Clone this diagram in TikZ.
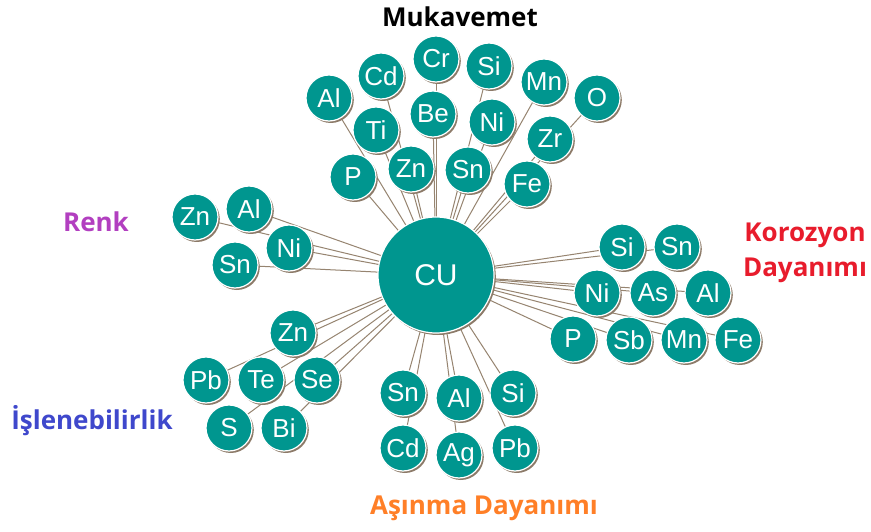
\documentclass[tikz,border=0pt]{standalone}
\usepackage{fontspec}
\setmainfont{Liberation Sans}
\newfontfamily\headfont{Open Sans}
\usepackage{tikz}
\usetikzlibrary{shadows}
\pgfdeclarelayer{bg}
\pgfsetlayers{bg,main}
\definecolor{elemteal}{RGB}{0,150,143}
\definecolor{shadebrown}{RGB}{140,122,104}
\definecolor{linkbrown}{RGB}{150,132,112}
\definecolor{renkcol}{RGB}{178,63,192}
\definecolor{islecol}{RGB}{63,72,204}
\definecolor{korcol}{RGB}{232,28,44}
\definecolor{asincol}{RGB}{255,127,39}

\begin{document}
\begin{tikzpicture}[x=1pt,y=-1pt,
  elem/.style={circle,fill=elemteal,draw=white,line width=1.2pt,minimum size=46pt,
    inner sep=0pt,text=white,font=\fontsize{26}{26}\selectfont,
    drop shadow={shadow xshift=1.8pt,shadow yshift=-2pt,fill=shadebrown,opacity=1}},
  hub/.style={elem,minimum size=116pt,font=\fontsize{30}{30}\selectfont},
  link/.style={linkbrown,line width=1pt},
  group/.style={font=\headfont\bfseries\fontsize{26}{35}\selectfont,align=center}]
\useasboundingbox (0,0) rectangle (871,532);
\node[hub] (cu) at (436,275) {CU};
% Mukavemet
\foreach \n/\t/\x/\y in {m1/Al/329/98, m2/Cd/381/76, m3/Cr/436/59, m4/Si/489/66,
  m5/Mn/544/82, m6/O/597/98, m7/Ti/376/130, m8/Be/433/114, m9/Ni/492/122,
  m10/Zr/550/139, m11/P/353/177, m12/Zn/411/169, m13/Sn/468/170, m14/Fe/527/184}
  \node[elem] (\n) at (\x,\y) {\t};
% Renk
\foreach \n/\t/\x/\y in {r1/Zn/195/217, r2/Al/249/209, r3/Ni/289/248, r4/Sn/235/265}
  \node[elem] (\n) at (\x,\y) {\t};
% Korozyon
\foreach \n/\t/\x/\y in {k1/Si/622/247, k2/Sn/677/247, k3/Ni/597/293, k4/As/653/293,
  k5/Al/708/293, k6/P/573/339, k7/Sb/629/340, k8/Mn/684/340, k9/Fe/738/340}
  \node[elem] (\n) at (\x,\y) {\t};
% Islenebilirlik
\foreach \n/\t/\x/\y in {i1/Zn/293/333, i2/Pb/206/380, i3/Te/261/380, i4/Se/317/380,
  i5/S/229/428, i6/Bi/284/428}
  \node[elem] (\n) at (\x,\y) {\t};
% Asinma
\foreach \n/\t/\x/\y in {a1/Sn/403/393, a2/Al/459/398, a3/Si/513/393, a4/Cd/403/448,
  a5/Ag/459/455, a6/Pb/515/448}
  \node[elem] (\n) at (\x,\y) {\t};
\begin{pgfonlayer}{bg}
\fill[white] (0,0) rectangle (871,532);
\foreach \n in {m1,m2,m3,m4,m5,m6,m7,m8,m9,m10,m11,m12,m13,m14,r1,r2,r3,r4,
  k1,k2,k3,k4,k5,k6,k7,k8,k9,i1,i2,i3,i4,i5,i6,a1,a2,a3,a4,a5,a6}
  \draw[link] (cu.center) -- (\n.center);
\end{pgfonlayer}
\node[group] (muk) at (460,17) {Mukavemet};
\node[group,text=renkcol] (renk) at (96,222) {Renk};
\node[group,text=korcol] (kor) at (805,253) {Korozyon\\Dayanımı};
\node[group,text=islecol] (isle) at (92,421) {İşlenebilirlik};
\node[group,text=asincol] (asin) at (484,508) {Aşınma Dayanımı};
\end{tikzpicture}
\end{document}
